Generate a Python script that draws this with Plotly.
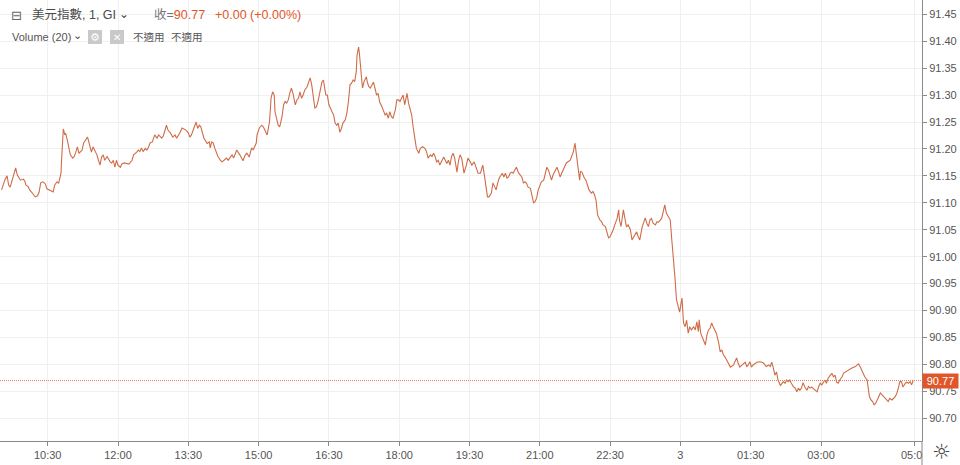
import plotly.graph_objects as go
import pandas as pd

# ---------------- data ----------------
start_date = "2020-12-02"
times = [
 "09:31","09:34","09:35","09:38","09:40","09:42","09:44","09:46","09:49","09:51",
 "09:53","09:55","09:59","10:01","10:02","10:05","10:07","10:09","10:12","10:14",
 "10:17","10:19","10:21","10:24","10:27","10:29","10:32","10:35","10:37","10:39",
 "10:42","10:44","10:46","10:47","10:48","10:50","10:52","10:53","10:55","10:57",
 "10:59","11:02","11:04","11:06","11:08","11:10","11:14","11:16","11:19","11:21",
 "11:22","11:24","11:26","11:28","11:31","11:33","11:35","11:37","11:39","11:41",
 "11:43","11:46","11:50","11:52","11:54","11:56","11:58","12:00","12:03","12:05",
 "12:08","12:11","12:14","12:18","12:20","12:24","12:26","12:28","12:30","12:32",
 "12:35","12:37","12:39","12:41","12:44","12:47","12:50","12:52","12:54","12:56",
 "12:58","13:00","13:02","13:04","13:07","13:10","13:13","13:15","13:19","13:22",
 "13:27","13:30","13:32","13:34","13:36","13:39","13:40","13:42","13:44","13:46",
 "13:48","13:50","13:53","13:54","13:57","13:58","14:00","14:02","14:04","14:06",
 "14:08","14:11","14:13","14:15","14:17","14:19","14:21","14:23","14:26","14:28",
 "14:30","14:32","14:36","14:40","14:43","14:45","14:48","14:51","14:53","14:57",
 "14:58","15:01","15:04","15:06","15:08","15:11","15:14","15:16","15:18","15:20",
 "15:21","15:23","15:25","15:27","15:30","15:32","15:34","15:36","15:38","15:40",
 "15:42","15:44","15:47","15:49","15:51","15:53","15:55","15:57","15:59","16:02",
 "16:04","16:06","16:08","16:10","16:12","16:14","16:16","16:19","16:21","16:23",
 "16:24","16:26","16:28","16:30","16:34","16:36","16:38","16:40","16:42","16:44",
 "16:46","16:48","16:51","16:53","16:55","16:57","16:59","17:01","17:03","17:05",
 "17:06","17:08","17:09","17:11","17:12","17:13","17:15","17:18","17:19","17:21",
 "17:23","17:25","17:27","17:29","17:31","17:33","17:35","17:38","17:40","17:42",
 "17:44","17:46","17:48","17:50","17:52","17:55","17:57","17:59","18:01","18:03",
 "18:05","18:07","18:10","18:12","18:14","18:16","18:18","18:20","18:22","18:25",
 "18:27","18:30","18:33","18:35","18:37","18:40","18:42","18:44","18:46","18:48",
 "18:50","18:52","18:54","18:57","18:59","19:01","19:03","19:05","19:07","19:09",
 "19:11","19:14","19:16","19:18","19:20","19:23","19:26","19:28","19:31","19:33",
 "19:36","19:38","19:41","19:44","19:47","19:49","19:51","19:53","19:55","19:58",
 "20:00","20:03","20:04","20:06","20:08","20:12","20:14","20:16","20:18","20:20",
 "20:22","20:24","20:26","20:28","20:30","20:33","20:37","20:39","20:41","20:43",
 "20:45","20:48","20:50","20:52","20:54","20:56","20:58","21:00","21:02","21:05",
 "21:07","21:09","21:11","21:13","21:15","21:17","21:20","21:22","21:24","21:26",
 "21:28","21:30","21:32","21:34","21:39","21:41","21:43","21:45","21:46","21:48",
 "21:51","21:52","21:54","21:57","21:59","22:01","22:03","22:06","22:08","22:10",
 "22:12","22:14","22:15","22:17","22:19","22:21","22:24","22:26","22:28","22:30",
 "22:32","22:34","22:36","22:39","22:41","22:42","22:44","22:46","22:47","22:49",
 "22:51","22:53","22:56","22:58","23:00","23:02","23:04","23:06","23:08","23:11",
 "23:13","23:15","23:17","23:19","23:21","23:23","23:25","23:28","23:30","23:32",
 "23:36","23:38","23:40","23:42","23:45","23:47","23:49","23:51","23:53","23:55",
 "23:57","23:59","00:02","00:04","00:06","00:08","00:10","00:12","00:14","00:17",
 "00:19","00:21","00:23","00:24","00:26","00:29","00:32","00:34","00:36","00:38",
 "00:40","00:42","00:46","00:49","00:51","00:53","00:55","00:57","00:59","01:01",
 "01:04","01:08","01:12","01:14","01:16","01:19","01:23","01:25","01:27","01:29",
 "01:31","01:33","01:38","01:42","01:46","01:50","01:53","01:55","01:57","01:59",
 "02:01","02:03","02:05","02:08","02:10","02:12","02:14","02:16","02:18","02:20",
 "02:22","02:25","02:27","02:29","02:31","02:33","02:35","02:37","02:40","02:42",
 "02:44","02:46","02:48","02:52","02:55","02:57","02:59","03:01","03:03","03:05",
 "03:07","03:09","03:12","03:14","03:16","03:18","03:20","03:22","03:24","03:27",
 "03:29","03:31","03:35","03:39","03:44","03:48","03:50","03:52","03:54","03:56",
 "03:59","04:00","04:02","04:04","04:06","04:08","04:10","04:13","04:16","04:18",
 "04:22","04:24","04:26","04:28","04:31","04:35","04:37","04:39","04:41","04:43",
 "04:45","04:48","04:50","04:52","04:54","04:56","04:58",
]
prices = [
 91.124,91.137,91.142,91.150,91.133,91.129,91.139,91.152,91.165,91.152,
 91.146,91.142,91.144,91.139,91.133,91.130,91.124,91.121,91.115,91.111,
 91.113,91.120,91.137,91.139,91.135,91.126,91.124,91.122,91.120,91.133,
 91.139,91.136,91.146,91.155,91.186,91.237,91.226,91.229,91.217,91.202,
 91.189,91.183,91.186,91.194,91.204,91.192,91.198,91.211,91.217,91.222,
 91.217,91.207,91.194,91.204,91.195,91.189,91.179,91.170,91.185,91.189,
 91.179,91.186,91.176,91.174,91.179,91.166,91.179,91.170,91.166,91.172,
 91.174,91.173,91.172,91.179,91.189,91.194,91.198,91.195,91.202,91.195,
 91.201,91.198,91.203,91.211,91.213,91.226,91.220,91.226,91.222,91.220,
 91.224,91.235,91.244,91.235,91.230,91.222,91.226,91.220,91.229,91.239,
 91.235,91.230,91.222,91.226,91.235,91.244,91.250,91.238,91.244,91.241,
 91.230,91.220,91.213,91.210,91.213,91.202,91.213,91.211,91.201,91.192,
 91.186,91.179,91.176,91.178,91.181,91.183,91.179,91.183,91.189,91.183,
 91.192,91.198,91.189,91.178,91.189,91.192,91.185,91.202,91.198,91.211,
 91.226,91.239,91.244,91.241,91.235,91.226,91.251,91.295,91.306,91.300,
 91.269,91.257,91.244,91.241,91.260,91.282,91.288,91.285,91.291,91.304,
 91.313,91.303,91.282,91.291,91.294,91.306,91.294,91.300,91.309,91.315,
 91.322,91.332,91.319,91.300,91.276,91.278,91.288,91.309,91.324,91.328,
 91.319,91.300,91.300,91.282,91.269,91.263,91.248,91.244,91.248,91.231,
 91.238,91.248,91.254,91.267,91.288,91.319,91.322,91.328,91.325,91.343,
 91.374,91.389,91.378,91.343,91.322,91.313,91.325,91.334,91.325,91.316,
 91.313,91.319,91.324,91.313,91.300,91.303,91.287,91.278,91.269,91.263,
 91.266,91.257,91.269,91.260,91.257,91.272,91.291,91.291,91.288,91.296,
 91.300,91.282,91.303,91.285,91.272,91.263,91.239,91.217,91.201,91.192,
 91.201,91.204,91.201,91.195,91.183,91.189,91.186,91.192,91.186,91.176,
 91.179,91.170,91.176,91.185,91.179,91.173,91.179,91.170,91.186,91.192,
 91.183,91.157,91.179,91.189,91.183,91.155,91.170,91.183,91.176,91.170,
 91.176,91.167,91.155,91.155,91.170,91.152,91.127,91.111,91.111,91.118,
 91.137,91.127,91.124,91.136,91.146,91.155,91.148,91.155,91.146,91.148,
 91.155,91.157,91.155,91.161,91.166,91.155,91.148,91.137,91.139,91.136,
 91.129,91.127,91.111,91.100,91.102,91.109,91.124,91.133,91.139,91.142,
 91.155,91.166,91.161,91.152,91.142,91.152,91.161,91.166,91.158,91.148,
 91.155,91.161,91.167,91.174,91.179,91.189,91.195,91.211,91.201,91.176,
 91.142,91.158,91.157,91.146,91.142,91.133,91.124,91.118,91.121,91.115,
 91.105,91.077,91.073,91.068,91.065,91.059,91.056,91.046,91.035,91.037,
 91.043,91.050,91.059,91.071,91.087,91.068,91.056,91.081,91.087,91.071,
 91.055,91.059,91.050,91.031,91.037,91.040,91.046,91.037,91.031,91.055,
 91.065,91.072,91.062,91.056,91.068,91.071,91.062,91.059,91.065,91.064,
 91.071,91.087,91.096,91.081,91.074,91.068,91.031,91.003,90.962,90.920,
 90.910,90.897,90.923,90.877,90.870,90.882,90.858,90.870,90.864,90.870,
 90.864,90.879,90.861,90.883,90.858,90.845,90.836,90.855,90.864,90.867,
 90.877,90.870,90.858,90.840,90.823,90.827,90.818,90.814,90.808,90.805,
 90.795,90.799,90.812,90.802,90.795,90.799,90.804,90.796,90.799,90.805,
 90.795,90.799,90.804,90.805,90.803,90.796,90.799,90.796,90.804,90.793,
 90.780,90.786,90.771,90.761,90.765,90.768,90.765,90.771,90.768,90.771,
 90.765,90.758,90.756,90.749,90.756,90.752,90.756,90.766,90.756,90.752,
 90.759,90.756,90.758,90.752,90.749,90.759,90.765,90.762,90.767,90.771,
 90.765,90.774,90.780,90.783,90.777,90.780,90.767,90.765,90.771,90.777,
 90.784,90.786,90.789,90.793,90.796,90.801,90.796,90.789,90.784,90.777,
 90.771,90.762,90.740,90.734,90.731,90.725,90.728,90.737,90.747,90.744,
 90.737,90.734,90.731,90.737,90.734,90.740,90.746,90.756,90.768,90.768,
 90.758,90.765,90.767,90.765,90.768,90.762,90.770,
]

tick_times = ["2020-12-02 10:30", "2020-12-02 12:00", "2020-12-02 13:30",
              "2020-12-02 15:00", "2020-12-02 16:30", "2020-12-02 18:00",
              "2020-12-02 19:30", "2020-12-02 21:00", "2020-12-02 22:30",
              "2020-12-03 00:00", "2020-12-03 01:30", "2020-12-03 03:00",
              "2020-12-03 05:00"]
tick_labels = ["10:30", "12:00", "13:30", "15:00", "16:30", "18:00", "19:30",
               "21:00", "22:30", "3", "01:30", "03:00", "05:00"]
last_price = 90.77
symbol_title = "美元指數, 1, GI"
change_text = "+0.00 (+0.00%)"
volume_title = "Volume (20)"
na_text = "不適用"

# ---------------- build timestamps ----------------
dts = []
day = pd.Timestamp(start_date)
prev = None
for t in times:
    h, m = map(int, t.split(":"))
    cur = h * 60 + m
    if prev is not None and cur < prev:
        day += pd.Timedelta(days=1)
    prev = cur
    dts.append(day + pd.Timedelta(minutes=cur))

# ---------------- styling ----------------
W, H = 960, 465
PL, PR, PT, PB = 0, 38, 0, 24
PW, PH = W - PL - PR, H - PT - PB
LINE = "#cf6c48"
ORANGE = "#e0562a"
TXT = "#555555"
GRID = "#f0f0f0"
AX = "#8a8a8a"
FONT = "Arial, Liberation Sans, Noto Sans CJK TC, sans-serif"

def px(x):
    return (x - PL) / PW

def py(y):
    return 1 - (y - PT) / PH

fig = go.Figure()
fig.add_trace(go.Scatter(x=dts, y=prices, mode="lines",
                         line=dict(color=LINE, width=1.1),
                         hoverinfo="skip", showlegend=False))

fig.update_layout(
    width=W, height=H, autosize=False,
    margin=dict(l=PL, r=PR, t=PT, b=PB, pad=0),
    paper_bgcolor="white", plot_bgcolor="white",
    font=dict(family=FONT, size=11, color=TXT),
    showlegend=False,
    xaxis=dict(type="date",
               range=["2020-12-02 09:28:56", "2020-12-03 05:09:18"],
               tickvals=tick_times, ticktext=tick_labels,
               showgrid=True, gridcolor=GRID, gridwidth=1,
               showline=True, linecolor=AX, linewidth=1,
               ticks="outside", ticklen=4, tickcolor=AX,
               tickfont=dict(size=11, color=TXT),
               zeroline=False, fixedrange=True),
    yaxis=dict(side="right", range=[90.6578, 91.4765],
               tick0=90.70, dtick=0.05, tickformat=".2f",
               showgrid=True, gridcolor=GRID, gridwidth=1,
               showline=True, linecolor=AX, linewidth=1,
               ticks="outside", ticklen=4, tickcolor=AX,
               tickfont=dict(size=11, color=TXT),
               zeroline=False, fixedrange=True),
)

shapes = [
    # last price dotted line
    dict(type="line", xref="paper", yref="y", x0=0, x1=1,
         y0=last_price, y1=last_price,
         line=dict(color="#e27a55", width=1, dash="1px,1px"), layer="above"),
    # white cover of price-scale corner (clips last time label)
    dict(type="rect", xref="paper", yref="paper",
         x0=px(922.5), x1=px(962), y0=py(441.5), y1=py(466),
         fillcolor="white", line=dict(width=0), layer="above"),
    # price-scale border continuing to bottom
    dict(type="line", xref="paper", yref="paper", x0=1, x1=1,
         y0=py(441), y1=py(465), line=dict(color=AX, width=1), layer="above"),
    # volume study icons
    dict(type="rect", xref="paper", yref="paper",
         x0=px(88), x1=px(102), y0=py(44), y1=py(30),
         fillcolor="#c9c9c9", line=dict(width=0), layer="above"),
    dict(type="rect", xref="paper", yref="paper",
         x0=px(110), x1=px(124), y0=py(44), y1=py(30),
         fillcolor="#c9c9c9", line=dict(width=0), layer="above"),
]
fig.update_layout(shapes=shapes)

def ann(x, y, text, size=12, color=TXT, anchor="left", family=FONT, **kw):
    d = dict(xref="paper", yref="paper", x=px(x), y=py(y), text=text,
             showarrow=False, xanchor=anchor, yanchor="middle",
             font=dict(size=size, color=color, family=family))
    d.update(kw)
    return d

annotations = [
    ann(16, 15, "⊟", size=13, color="#666666", anchor="center",
        family="DejaVu Sans"),
    ann(30, 15, symbol_title, size=12.5, color="#4a4a4a"),
    ann(124, 14, "⌄", size=12, color="#4a4a4a", anchor="center",
        family="DejaVu Sans"),
    ann(152, 15, "收=<span style='color:%s'>%.2f</span>" % (ORANGE, last_price),
        size=12.5, color="#777777"),
    ann(213, 15, change_text, size=12.5, color=ORANGE),
    ann(10, 37, volume_title, size=11, color=TXT),
    ann(77, 36, "⌄", size=11, color="#4a4a4a", anchor="center",
        family="DejaVu Sans"),
    ann(95, 37, "⚙", size=11, color="white", anchor="center",
        family="DejaVu Sans"),
    ann(117, 37, "✕", size=10, color="white", anchor="center",
        family="DejaVu Sans"),
    ann(131, 37, na_text, size=10.5, color=TXT),
    ann(169, 37, na_text, size=10.5, color=TXT),
    # last price label on the price scale
    dict(xref="paper", yref="y", x=1, y=last_price, xanchor="left",
         yanchor="middle", text="%.2f" % last_price, showarrow=False,
         bgcolor=ORANGE, width=32, height=11, borderpad=1.5,
         font=dict(size=11, color="white", family=FONT)),
    # settings icon
    ann(941, 452, "☼", size=21, color="#444444", anchor="center",
        family="DejaVu Sans"),
]
fig.update_layout(annotations=annotations)

fig.write_html(
    "out.html",
    config={"displayModeBar": False},
    post_script="document.body.style.margin='0';document.body.style.padding='0';"
                "document.body.style.overflow='hidden';",
)
